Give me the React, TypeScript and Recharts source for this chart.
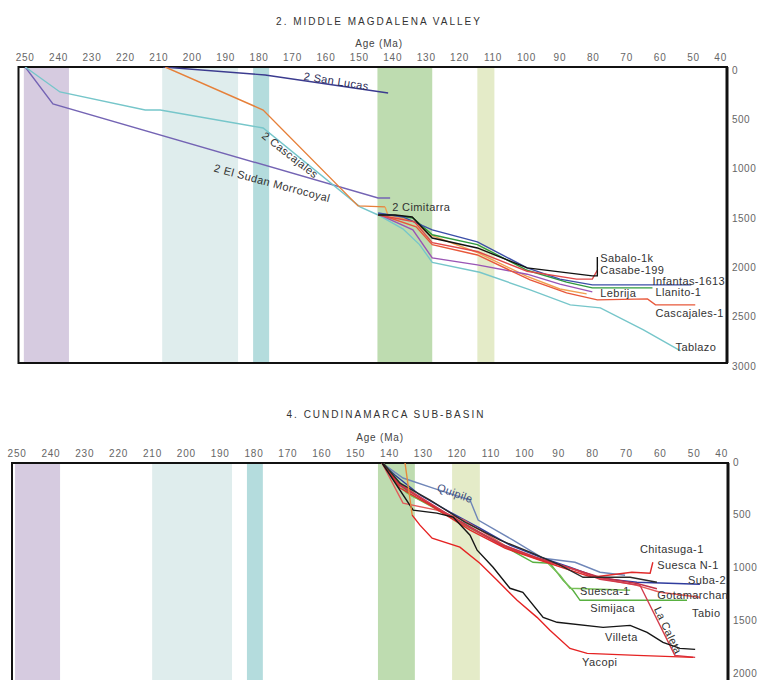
import React from 'react';
import { ComposedChart, Line, XAxis, YAxis, ReferenceArea, ReferenceLine, ReferenceDot } from 'recharts';

// ---------- axes ----------
const ageTicks = [250, 240, 230, 220, 210, 200, 190, 180, 170, 160, 150, 140, 130, 120, 110, 100, 90, 80, 70, 60, 50, 40];
const topDepthTicks = [0, 500, 1000, 1500, 2000, 2500, 3000];
const bottomDepthTicks = [0, 500, 1000, 1500, 2000];

// ---------- time bands (age from, age to) ----------
const topBands = [[250.4, 236.9], [209.0, 186.3], [181.8, 177.0], [144.6, 128.2], [114.7, 109.6]];
const bottomBands = [[250.6, 237.3], [210.1, 186.5], [182.1, 177.4], [143.4, 132.5], [121.5, 113.3]];

// ---------- 2. Middle Magdalena Valley: [age Ma, depth m] ----------
const sanLucas = [[208.7, 0], [178.2, 81], [141.4, 263]];
const elSudan = [[250, 0], [241.7, 375], [144.4, 1327], [140.8, 1327]];
const cascajales2 = [[208.1, 0], [178.8, 436], [150.4, 1408], [142.3, 1418]];
const cimitarra = [[142.3, 1418], [141.5, 1500], [134, 1560], [129, 1700], [114.7, 1880], [100, 2120], [90, 2250], [82, 2300]];
const tablazo = [[250, 0], [239.6, 253], [214.1, 436], [209.6, 436], [178.8, 618], [149.8, 1418], [144.4, 1500], [137, 1640], [132, 1800], [128.2, 1980], [114, 2080], [98.9, 2259], [86.9, 2411], [77.9, 2441], [65, 2664], [53.9, 2877]];
const sabalo = [[144.4, 1500], [139.3, 1500], [134.2, 1520], [128.2, 1733], [114.7, 1834], [99.8, 2036], [80.3, 2117], [78.8, 2117], [78.8, 1925]];
const casabe = [[144.4, 1500], [138, 1540], [133.5, 1570], [128.2, 1780], [114.7, 1870], [99.8, 2070], [85, 2150], [80.3, 2150], [78.8, 2060]];
const infantas = [[144.4, 1480], [137, 1520], [128.2, 1651], [114.7, 1773], [99.8, 2036], [90, 2150], [80.3, 2208], [50.7, 2208]];
const llanito = [[144.4, 1490], [139, 1505], [134, 1530], [128.2, 1700], [114.7, 1800], [99.8, 2060], [88, 2180], [80.3, 2239], [62.3, 2239]];
const lebrija = [[144.4, 1490], [134, 1650], [128.2, 1935], [114.7, 2006], [99.8, 2100], [90, 2200], [80.3, 2279]];
const cascajales1 = [[144.4, 1490], [133, 1620], [128.2, 1800], [114.7, 1905], [98.9, 2158], [88, 2290], [78.8, 2360], [63.8, 2350], [61.4, 2411], [49.5, 2411]];

// ---------- 4. Cundinamarca Sub-basin: [age Ma, depth m] ----------
const quipile = [[142.2, 0], [136, 142], [127.1, 237], [116.2, 351], [113.8, 540], [103.5, 730], [94.6, 901], [85.2, 939], [77.8, 1033], [70.4, 1062]];
const suba2 = [[142.2, 0], [138.4, 114], [131, 303], [122.1, 465], [113.3, 616], [104.4, 777], [95.5, 891], [86.7, 986], [77.8, 1090], [66.9, 1128], [48.3, 1147]];
const suescaN1 = [[141.9, 0], [136.9, 237], [128, 398], [116.2, 635], [105.9, 806], [95.5, 920], [86.7, 1014], [80.2, 1081], [68.4, 1033], [63, 1043], [62.2, 939]];
const villeta = [[142.2, 0], [133, 446], [126, 474], [121.2, 512], [116.2, 683], [114.1, 825], [109.4, 986], [104.4, 1185], [100.6, 1223], [94.6, 1460], [90.5, 1507], [76.9, 1555], [68.9, 1536], [63.9, 1602], [59.2, 1697], [54.2, 1754], [49.7, 1763]];
const chitasuga = [[141.9, 0], [136.9, 190], [128, 351], [117.7, 559], [107.3, 730], [98.5, 844], [89.6, 967], [82.8, 1081], [68.9, 1081], [61, 1128]];
const simijaca = [[141.9, 0], [133.9, 303], [125.1, 446], [114.7, 635], [97.6, 939], [92.6, 948], [88.7, 1109], [85.8, 1204], [83.7, 1299], [52.1, 1299]];
const suesca1 = [[141.9, 0], [135, 280], [126, 440], [116, 620], [101.4, 853], [94.1, 920], [89.6, 1062], [86.7, 1185], [68.9, 1204]];
const tabio = [[142.2, 0], [136, 379], [126, 446], [118, 540], [106, 780], [96, 900], [86, 1000], [77.8, 1090], [66.9, 1157], [60.1, 1223], [48.3, 1270]];
const gotamarchan = [[142.2, 0], [137, 210], [129, 370], [118, 570], [107, 770], [97, 890], [87, 990], [77.8, 1081], [66.9, 1140], [61, 1190]];
const laCaleta = [[142.2, 0], [137, 200], [129, 360], [118, 580], [107, 780], [97, 900], [86, 1000], [77.8, 1100], [71.9, 1128], [66, 1157], [55.7, 1820], [49.7, 1839]];
const yacopiTop = [[135.4, 0], [133.9, 351], [133.3, 493]];
const yacopi = [[133.3, 493], [131, 588], [127.4, 711], [119.2, 796], [113.3, 948], [108.2, 1109], [102.3, 1299], [96.4, 1460], [92.6, 1583], [86.7, 1754], [81.6, 1801], [66.9, 1820], [50.3, 1839]];

// ---------- well labels (text, age, depth) ----------
const topLabels = [
  { text: '2 San Lucas', age: 156.9, depth: 142 },
  { text: '2 Cascajales', age: 170.7, depth: 891 },
  { text: '2 El Sudan Morrocoyal', age: 176.1, depth: 1175 },
  { text: '2 Cimitarra', age: 140.2, depth: 1418 },
  { text: 'Sabalo-1k', age: 77.9, depth: 1935 },
  { text: 'Casabe-199', age: 77.9, depth: 2056 },
  { text: 'Infantas-1613', age: 62.3, depth: 2168 },
  { text: 'Lebrija', age: 77.9, depth: 2289 },
  { text: 'Llanito-1', age: 61.4, depth: 2279 },
  { text: 'Cascajales-1', age: 61.4, depth: 2492 },
  { text: 'Tablazo', age: 55.4, depth: 2836 },
];
const bottomLabels = [
  { text: 'Quipile', age: 120.6, depth: 284 },
  { text: 'Chitasuga-1', age: 66.0, depth: 815 },
  { text: 'Suesca N-1', age: 60.9, depth: 967 },
  { text: 'Suba-2', age: 51.8, depth: 1109 },
  { text: 'Suesca-1', age: 83.7, depth: 1213 },
  { text: 'Gotamarchan', age: 60.9, depth: 1251 },
  { text: 'Simijaca', age: 80.7, depth: 1375 },
  { text: 'Tabio', age: 50.6, depth: 1422 },
  { text: 'La Caleta', age: 57.7, depth: 1583 },
  { text: 'Villeta', age: 76.3, depth: 1650 },
  { text: 'Yacopi', age: 83.1, depth: 1887 },
];

// ---------- styles ----------
const FONT = "'Liberation Sans', Arial, sans-serif";
const bandColors = ['#d6cbe0', '#dfeded', '#b4dcdd', '#bedcb0', '#e4ebc8'];
const labelStyle: Record<string, { angle?: number; anchor?: string; color?: string }> = {
  '2 San Lucas': { angle: 9, anchor: 'middle', color: '#2a2a55' },
  '2 Cascajales': { angle: 38, anchor: 'middle' },
  '2 El Sudan Morrocoyal': { angle: 15, anchor: 'middle' },
  'Quipile': { angle: 20, anchor: 'middle', color: '#3c4c7c' },
  'La Caleta': { angle: 65, anchor: 'middle' },
};

const topSeries = [
  { data: sanLucas, color: '#3b3b8f' },
  { data: elSudan, color: '#7464b4' },
  { data: tablazo, color: '#76c6ca' },
  { data: cascajales2, color: '#e6803a' },
  { data: cimitarra, color: '#f0a050' },
  { data: lebrija, color: '#9a55b5' },
  { data: cascajales1, color: '#e8583a' },
  { data: llanito, color: '#2f9a3e' },
  { data: infantas, color: '#3c4fa8' },
  { data: casabe, color: '#e04848' },
  { data: sabalo, color: '#111111' },
];
const bottomSeries = [
  { data: quipile, color: '#6f86b8' },
  { data: suba2, color: '#2f3c9e' },
  { data: simijaca, color: '#58b040' },
  { data: suesca1, color: '#78c058' },
  { data: tabio, color: '#e25a5a' },
  { data: gotamarchan, color: '#c03048' },
  { data: laCaleta, color: '#d23a4c' },
  { data: suescaN1, color: '#e02a2a' },
  { data: chitasuga, color: '#2a2a2a' },
  { data: villeta, color: '#151515' },
  { data: yacopiTop, color: '#e8893a' },
  { data: yacopi, color: '#e52222' },
];

const toPts = (rows: number[][]) => rows.map(([age, depth]) => ({ age, depth }));

const AgeTick = (props: any) => {
  const { x, y, payload } = props;
  const last = payload.value === 40;
  return (
    <text x={x} y={y} textAnchor={last ? 'end' : 'middle'} fontSize={10} fill="#666" fontFamily={FONT} letterSpacing={0.8}>
      {payload.value}
    </text>
  );
};

const makeDepthTick = (dy: number) => (props: any) => {
  const { x, y, payload } = props;
  return (
    <text x={x} y={y + dy} textAnchor="start" dominantBaseline="central" fontSize={10} fill="#666" fontFamily={FONT} letterSpacing={0.5}>
      {payload.value}
    </text>
  );
};

const makeLabelShape = (text: string) => (p: any) => {
  const st = labelStyle[text] || {};
  const { cx, cy } = p;
  return (
    <text
      x={cx}
      y={cy}
      textAnchor={(st.anchor as any) || 'start'}
      dominantBaseline="central"
      transform={st.angle ? `rotate(${st.angle} ${cx} ${cy})` : undefined}
      fontSize={11}
      fill={st.color || '#333'}
      fontFamily={FONT}
      letterSpacing={0.4}
    >
      {text}
    </text>
  );
};

type PanelProps = {
  height: number;
  margin: { top: number; right: number; bottom: number; left: number };
  xDomain: [number, number];
  yDomain: [number, number];
  yTicks: number[];
  yTickDy: number;
  yAxisWidth: number;
  xTickMargin: number;
  bands: number[][];
  series: { data: number[][]; color: string }[];
  labels: { text: string; age: number; depth: number }[];
};

function Panel(p: PanelProps) {
  return (
    <ComposedChart width={758} height={p.height} margin={p.margin}>
      <XAxis
        dataKey="age"
        type="number"
        domain={p.xDomain}
        reversed
        orientation="top"
        height={30}
        ticks={ageTicks}
        interval={0}
        axisLine={false}
        tickLine={false}
        tickSize={0}
        tickMargin={p.xTickMargin}
        tick={AgeTick}
        allowDataOverflow
      />
      <YAxis
        type="number"
        domain={p.yDomain}
        reversed
        orientation="right"
        width={p.yAxisWidth}
        ticks={p.yTicks}
        interval={0}
        axisLine={false}
        tickLine={false}
        tickSize={0}
        tickMargin={5}
        tick={makeDepthTick(p.yTickDy)}
        allowDataOverflow
      />
      {p.bands.map((b, i) => (
        <ReferenceArea key={'b' + i} x1={b[0]} x2={b[1]} fill={bandColors[i]} fillOpacity={1} stroke="none" ifOverflow="visible" />
      ))}
      {p.series.map((s, i) => (
        <Line
          key={'s' + i}
          data={toPts(s.data)}
          dataKey="depth"
          type="linear"
          stroke={s.color}
          strokeWidth={1.4}
          dot={false}
          activeDot={false}
          isAnimationActive={false}
        />
      ))}
      <ReferenceArea x1={p.xDomain[1]} x2={p.xDomain[0]} y1={p.yDomain[0]} y2={p.yDomain[1]} fill="none" stroke="#111" strokeWidth={2} ifOverflow="visible" />
      <ReferenceLine x={p.xDomain[0]} stroke="#111" strokeWidth={3} ifOverflow="visible" />
      {p.labels.map((l, i) => (
        <ReferenceDot key={'l' + i} x={l.age} y={l.depth} r={0} ifOverflow="visible" shape={makeLabelShape(l.text)} />
      ))}
    </ComposedChart>
  );
}

export default function App() {
  return (
    <div style={{ position: 'absolute', left: 0, top: 0, width: 758, height: 680, overflow: 'hidden', background: '#fff' }}>
      <div style={{ position: 'absolute', left: 0, top: 0 }}>
        <Panel
          height={390}
          margin={{ top: 37, right: 0, bottom: 27, left: 18.5 }}
          xDomain={[40, 252]}
          yDomain={[0, 3000]}
          yTicks={topDepthTicks}
          yTickDy={3}
          yAxisWidth={31}
          xTickMargin={6}
          bands={topBands}
          series={topSeries}
          labels={topLabels}
        />
      </div>
      <div style={{ position: 'absolute', left: 0, top: 390 }}>
        <Panel
          height={300}
          margin={{ top: 43, right: 0, bottom: 5, left: 12 }}
          xDomain={[40, 251.5]}
          yDomain={[0, 2100]}
          yTicks={bottomDepthTicks}
          yTickDy={-1}
          yAxisWidth={30}
          xTickMargin={6.5}
          bands={bottomBands}
          series={bottomSeries}
          labels={bottomLabels}
        />
      </div>
      <svg width={758} height={680} style={{ position: 'absolute', left: 0, top: 0, pointerEvents: 'none' }}>
        <text x={379} y={24.6} textAnchor="middle" fontSize={10} fill="#333" fontFamily={FONT} letterSpacing={2}>2. MIDDLE MAGDALENA VALLEY</text>
        <text x={379} y={46.5} textAnchor="middle" fontSize={10} fill="#444" fontFamily={FONT} letterSpacing={0.8}>Age (Ma)</text>
        <text x={386} y={417.6} textAnchor="middle" fontSize={10} fill="#333" fontFamily={FONT} letterSpacing={2}>4. CUNDINAMARCA SUB-BASIN</text>
        <text x={380} y={440.5} textAnchor="middle" fontSize={10} fill="#444" fontFamily={FONT} letterSpacing={0.8}>Age (Ma)</text>
      </svg>
    </div>
  );
}
